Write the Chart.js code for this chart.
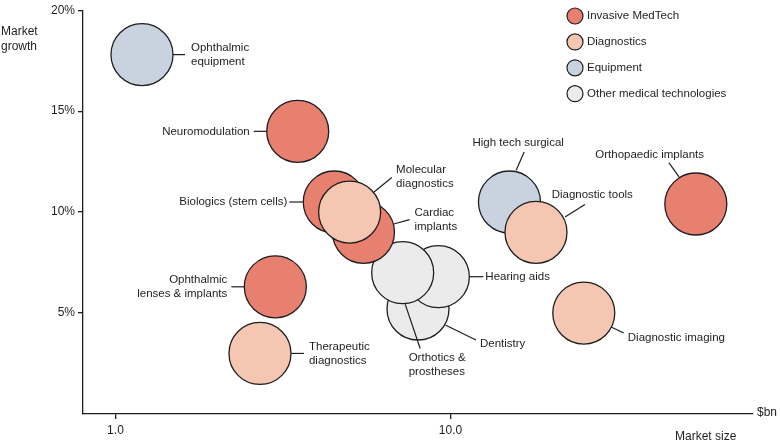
<!DOCTYPE html>
<html>
<head>
<meta charset="utf-8">
<script src="https://cdn.jsdelivr.net/npm/chart.js@4/dist/chart.umd.min.js"></script>
<style>
  html, body { margin: 0; padding: 0; background: #fff; }
  #wrap { width: 780px; height: 443px; }
</style>
</head>
<body>
<div id="wrap"><canvas id="chart" width="780" height="443"></canvas></div>
<script>
  // ---- Data (market size $bn, market growth %) ---------------
  var invasiveNames  = ['Neuromodulation', 'Biologics (stem cells)', 'Cardiac implants', 'Ophthalmic lenses & implants', 'Orthopaedic implants'];
  var invasiveSize   = [3.5, 4.5, 5.5, 3.0, 54];
  var invasiveGrowth = [14.0, 10.5, 9.0, 6.3, 10.4];

  var diagNames  = ['Molecular diagnostics', 'Therapeutic diagnostics', 'Diagnostic tools', 'Diagnostic imaging'];
  var diagSize   = [5.0, 2.7, 18, 25];
  var diagGrowth = [10.0, 3.0, 9.0, 5.0];

  var equipNames  = ['Ophthalmic equipment', 'High tech surgical'];
  var equipSize   = [1.2, 15];
  var equipGrowth = [17.8, 10.5];

  var otherNames  = ['Dentistry', 'Hearing aids', 'Orthotics & prostheses'];
  var otherSize   = [8.0, 9.2, 7.2];
  var otherGrowth = [5.2, 6.8, 7.0];

  var categories = ['Invasive MedTech', 'Diagnostics', 'Equipment', 'Other medical technologies'];
  var xTicks = [1, 10];
  var yTicks = [5, 10, 15, 20];

  // ---- Styles ------------------------------------------------
  var colors = ['#E8806F', '#F5C6B1', '#C9D3DF', '#EBEBEB'];
  var ink = '#1e1e1e';
  var FONT = "'Liberation Sans', Arial, sans-serif";
  var R = 31;

  // ---- Label layout, offsets from bubble centre (px) ---------
  var labelLayout = {
    'Ophthalmic equipment':         { lines: ['Ophthalmic', 'equipment'], tx: 49, ty: -7, align: 'left', seg: [31, 0, 43, 0] },
    'Neuromodulation':              { lines: ['Neuromodulation'], tx: -48, ty: 0, align: 'right', seg: [-31, 0, -44, 0] },
    'Biologics (stem cells)':       { lines: ['Biologics (stem cells)'], tx: -47, ty: 0, align: 'right', seg: [-31, 0, -45, 0] },
    'Molecular diagnostics':        { lines: ['Molecular', 'diagnostics'], tx: 46.5, ty: -42, align: 'left', seg: [23.8, -19.6, 42.2, -34.6] },
    'Cardiac implants':             { lines: ['Cardiac', 'implants'], tx: 51, ty: -19.5, align: 'left', seg: [30.3, -8.3, 46, -12.7] },
    'Hearing aids':                 { lines: ['Hearing aids'], tx: 47, ty: 0, align: 'left', seg: [31, 0, 45, 0] },
    'Dentistry':                    { lines: ['Dentistry'], tx: 62, ty: 35.3, align: 'left', seg: [27.3, 16, 58, 31] },
    'Orthotics & prostheses':       { lines: ['Orthotics &', 'prostheses'], tx: 6, ty: 85, align: 'left', seg: [2.5, 31.5, 17.5, 75.8] },
    'Ophthalmic lenses & implants': { lines: ['Ophthalmic', 'lenses & implants'], tx: -48, ty: -6.5, align: 'right', seg: [-31, 0, -44, 0] },
    'Therapeutic diagnostics':      { lines: ['Therapeutic', 'diagnostics'], tx: 49, ty: -6.5, align: 'left', seg: [31, 0, 44, 0] },
    'High tech surgical':           { lines: ['High tech surgical'], tx: -37, ty: -59, align: 'left', seg: [6.7, -31.7, 14.7, -50] },
    'Diagnostic tools':             { lines: ['Diagnostic tools'], tx: 15.7, ty: -37, align: 'left', seg: [29, -15.3, 49, -27.7] },
    'Orthopaedic implants':         { lines: ['Orthopaedic implants'], tx: -100.5, ty: -49, align: 'left', seg: [-16.8, -27.1, -26.8, -41.1] },
    'Diagnostic imaging':           { lines: ['Diagnostic imaging'], tx: 44, ty: 25, align: 'left', seg: [27.3, 13.9, 40, 19.9] }
  };

  function points(sizes, growth, names) {
    return sizes.map(function (s, i) { return { x: s, y: growth[i], name: names[i] }; });
  }

  function bubbleSet(idx, pts, order) {
    return {
      label: categories[idx],
      data: pts,
      backgroundColor: colors[idx],
      borderColor: ink,
      borderWidth: 1.3,
      radius: R,
      hoverRadius: 0,
      order: order
    };
  }

  // ---- Labels, legend and axis captions ----------------------
  var annotate = {
    id: 'annotate',
    afterDatasetsDraw: function (chart) {
      var ctx = chart.ctx;
      ctx.save();
      ctx.strokeStyle = ink;
      ctx.fillStyle = ink;
      ctx.lineWidth = 1.2;
      ctx.font = '11.5px ' + FONT;
      ctx.textBaseline = 'middle';

      chart.data.datasets.forEach(function (ds, di) {
        var meta = chart.getDatasetMeta(di);
        meta.data.forEach(function (el, i) {
          var lay = labelLayout[ds.data[i].name];
          if (!lay) return;
          var cx = el.x, cy = el.y;
          ctx.beginPath();
          ctx.moveTo(cx + lay.seg[0], cy + lay.seg[1]);
          ctx.lineTo(cx + lay.seg[2], cy + lay.seg[3]);
          ctx.stroke();
          ctx.textAlign = lay.align;
          lay.lines.forEach(function (t, k) {
            ctx.fillText(t, cx + lay.tx, cy + lay.ty + k * 14);
          });
        });
      });

      // legend
      var lx = 575, ly = 16;
      ctx.textAlign = 'left';
      categories.forEach(function (c, i) {
        var y = ly + i * 25.9;
        ctx.beginPath();
        ctx.arc(lx, y, 8, 0, Math.PI * 2);
        ctx.fillStyle = colors[i];
        ctx.fill();
        ctx.lineWidth = 1.2;
        ctx.stroke();
        ctx.fillStyle = ink;
        ctx.fillText(c, lx + 12, y);
      });

      // axis captions
      ctx.font = '12px ' + FONT;
      ctx.fillText('Market', 1, 32);
      ctx.fillText('growth', 1, 47);
      ctx.fillText('$bn', 757, 413);
      ctx.fillText('Market size', 675, 437);
      ctx.restore();
    }
  };

  new Chart(document.getElementById('chart'), {
    type: 'bubble',
    data: {
      datasets: [
        bubbleSet(1, points(diagSize, diagGrowth, diagNames), 0),
        bubbleSet(0, points(invasiveSize, invasiveGrowth, invasiveNames), 1),
        bubbleSet(2, points(equipSize, equipGrowth, equipNames), 2),
        bubbleSet(3, points(otherSize, otherGrowth, otherNames), 3)
      ]
    },
    options: {
      responsive: false,
      animation: false,
      events: [],
      clip: false,
      // bubble charts pad the plot by the max radius unless told not to
      layout: { autoPadding: false, padding: { top: 8, right: 27, left: 0, bottom: 0 } },
      plugins: {
        legend: { display: false },
        tooltip: { enabled: false }
      },
      scales: {
        x: {
          type: 'logarithmic',
          min: 0.8,
          max: 80,
          afterBuildTicks: function (s) { s.ticks = xTicks.map(function (v) { return { value: v }; }); },
          afterFit: function (s) { s.height = 29; },
          grid: { drawOnChartArea: false, tickLength: 5, color: ink, lineWidth: 1.3 },
          border: { color: ink, width: 1.3 },
          ticks: {
            autoSkip: false,
            maxRotation: 0,
            padding: 4,
            color: ink,
            font: { family: FONT, size: 12 },
            callback: function (v) { return Number(v).toFixed(1); }
          }
        },
        y: {
          min: 0,
          max: 20,
          afterBuildTicks: function (s) { s.ticks = yTicks.map(function (v) { return { value: v }; }); },
          afterFit: function (s) { s.width = 83; },
          grid: { drawOnChartArea: false, tickLength: 5, color: ink, lineWidth: 1.3 },
          border: { color: ink, width: 1.3 },
          ticks: {
            padding: 3,
            color: ink,
            font: { family: FONT, size: 12 },
            callback: function (v) { return v + '%'; }
          }
        }
      }
    },
    plugins: [annotate]
  });
</script>
</body>
</html>
